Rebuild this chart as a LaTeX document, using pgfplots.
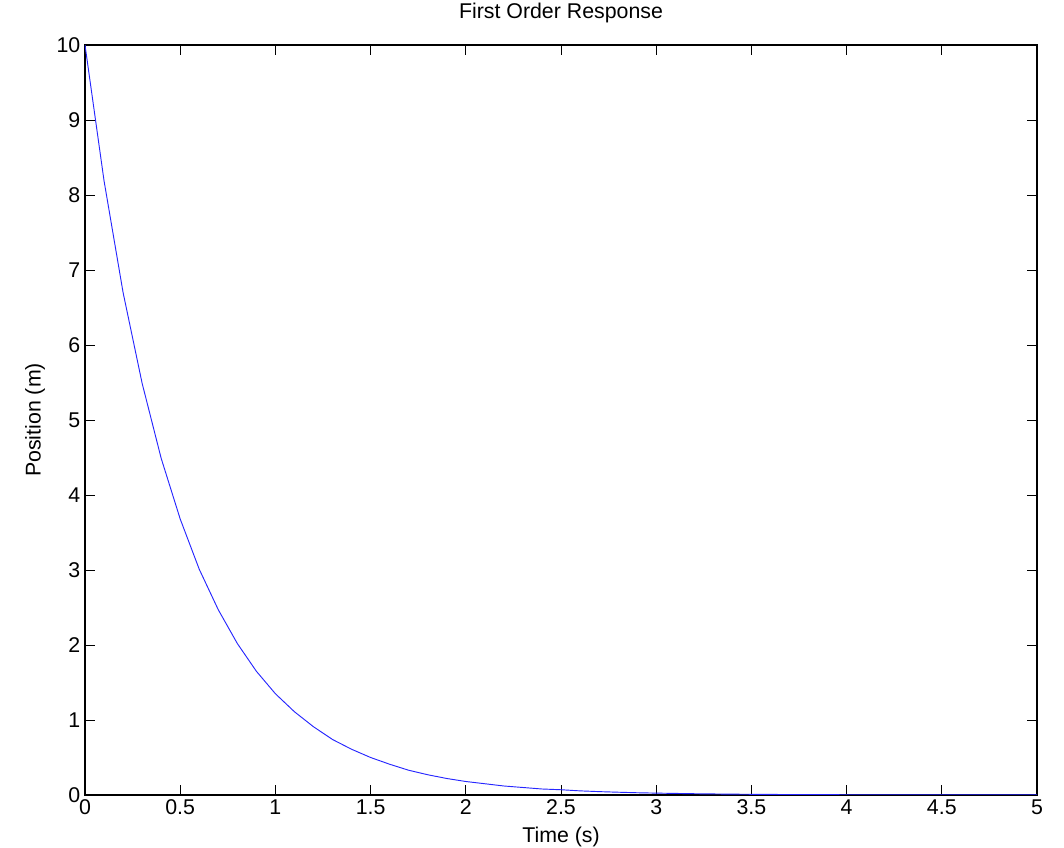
\documentclass[border=0pt]{standalone}
\usepackage{pgfplots}
\pgfplotsset{compat=1.18}
\usepackage{fontspec}
\setmainfont{Liberation Sans}
\begin{document}
\begin{tikzpicture}
\path[use as bounding box] (-63.75pt,-39.75pt) rectangle (734.25pt,596.25pt);
\begin{axis}[
  width=714pt, height=562.5pt, scale only axis,
  at={(0,0)}, anchor=south west,
  xmin=0, xmax=5, ymin=0, ymax=10,
  xtick={0,0.5,...,5}, ytick={0,1,...,10},
  tick align=inside, major tick length=7.5pt,
  axis line style={line width=1pt},
  every tick/.style={black, line width=0.6pt},
  /pgf/number format/assume math mode=true,
  font=\fontsize{16}{19}\selectfont,
  tick label style={font=\fontsize{16}{19}\selectfont},
  title={First Order Response},
  title style={at={(axis description cs:0.5,1.032)}, anchor=center, font=\fontsize{16}{19}\selectfont},
  xlabel={Time (s)},
  ylabel={Position (m)},
  x label style={at={(axis description cs:0.5,-0.056)}, anchor=center, font=\fontsize{16}{19}\selectfont},
  y label style={at={(axis description cs:-0.0525,0.5)}, anchor=center, font=\fontsize{16}{19}\selectfont},
]
\addplot[blue!85!white, line width=0.7pt] coordinates {
(0,10) (0.1,8.19) (0.2,6.70) (0.3,5.49) (0.4,4.49) (0.5,3.68)
(0.6,3.01) (0.7,2.47) (0.8,2.02) (0.9,1.65) (1.0,1.35)
(1.1,1.11) (1.2,0.91) (1.3,0.74) (1.4,0.61) (1.5,0.50)
(1.6,0.41) (1.7,0.33) (1.8,0.27) (1.9,0.22) (2.0,0.18)
(2.1,0.15) (2.2,0.12) (2.3,0.10) (2.4,0.08) (2.5,0.07)
(2.6,0.055) (2.7,0.045) (2.8,0.037) (2.9,0.030) (3.0,0.025)
(3.2,0.017) (3.4,0.011) (3.6,0.0075) (3.8,0.005) (4.0,0.0034)
(4.5,0.0012) (5.0,0.0005)};
\end{axis}
\end{tikzpicture}
\end{document}
